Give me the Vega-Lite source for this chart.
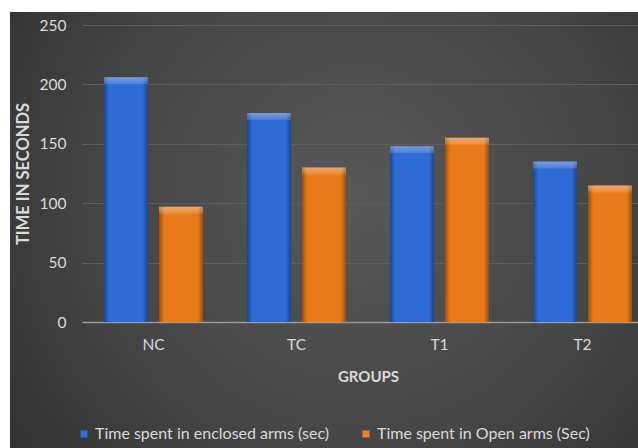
{
  "$schema": "https://vega.github.io/schema/vega-lite/v6.json",
  "width": 628,
  "height": 436,
  "autosize": {"type": "none"},
  "padding": {"left": 10, "top": 12, "right": 0, "bottom": 0},
  "background": "#ffffff",
  "view": {
    "stroke": null,
    "fill": {
      "gradient": "radial",
      "x1": 0.55, "y1": 0.45, "r1": 0,
      "x2": 0.55, "y2": 0.45, "r2": 0.75,
      "stops": [
        {"offset": 0, "color": "#585858"},
        {"offset": 0.55, "color": "#454545"},
        {"offset": 1, "color": "#2c2c2c"}
      ]
    }
  },
  "config": {
    "font": "Lato",
    "axis": {
      "labelColor": "#dadada",
      "titleColor": "#dadada",
      "labelFontSize": 15.5,
      "titleFontSize": 15,
      "titleFontWeight": "bold",
      "ticks": false,
      "tickSize": 0
    },
    "legend": {
      "labelColor": "#dadada",
      "labelFontSize": 16,
      "labelLimit": 400
    }
  },
  "data": {
    "values": [
      {"group": "NC", "series": "Time spent in enclosed arms (sec)", "time": 206},
      {"group": "NC", "series": "Time spent in Open arms (Sec)", "time": 97},
      {"group": "TC", "series": "Time spent in enclosed arms (sec)", "time": 176},
      {"group": "TC", "series": "Time spent in Open arms (Sec)", "time": 130},
      {"group": "T1", "series": "Time spent in enclosed arms (sec)", "time": 148},
      {"group": "T1", "series": "Time spent in Open arms (Sec)", "time": 155},
      {"group": "T2", "series": "Time spent in enclosed arms (sec)", "time": 135},
      {"group": "T2", "series": "Time spent in Open arms (Sec)", "time": 115}
    ]
  },
  "encoding": {
    "x": {
      "field": "group",
      "type": "nominal",
      "sort": ["NC", "TC", "T1", "T2"],
      "scale": {"range": [72, 644], "paddingInner": 0.308, "paddingOuter": 0.154},
      "axis": {
        "title": "GROUPS",
        "labelAngle": 0,
        "offset": -126,
        "labelPadding": 15,
        "titlePadding": 17,
        "domainColor": "#9a9a9a",
        "domainWidth": 1.5
      }
    },
    "xOffset": {
      "field": "series",
      "type": "nominal",
      "scale": {
        "domain": ["Time spent in enclosed arms (sec)", "Time spent in Open arms (Sec)"],
        "paddingInner": 0.2,
        "paddingOuter": 0
      }
    },
    "y": {
      "field": "time",
      "type": "quantitative",
      "scale": {"domain": [0, 250], "range": [310, 13], "nice": false},
      "axis": {
        "title": "TIME IN SECONDS",
        "titleFontSize": 16.5,
        "values": [0, 50, 100, 150, 200, 250],
        "offset": -72,
        "domain": false,
        "labelPadding": 16,
        "titlePadding": 8,
        "gridColor": "#5e5e5e",
        "gridWidth": 1
      }
    }
  },
  "layer": [
    {
      "mark": {"type": "bar"},
      "encoding": {
        "color": {
          "field": "series",
          "type": "nominal",
          "scale": {
            "domain": ["Time spent in enclosed arms (sec)", "Time spent in Open arms (Sec)"],
            "range": ["#3071e2", "#f5801a"]
          },
          "legend": {
            "title": null,
            "orient": "none",
            "direction": "horizontal",
            "legendX": 66,
            "legendY": 414,
            "symbolType": "square",
            "symbolSize": 49,
            "symbolStrokeWidth": 0,
            "labelOffset": 3,
            "columnPadding": 28,
            "padding": 0
          }
        }
      }
    },
    {
      "mark": {
        "type": "bar",
        "fill": {
          "gradient": "linear",
          "x1": 0, "y1": 0, "x2": 1, "y2": 0,
          "stops": [
            {"offset": 0, "color": "rgba(0,0,0,0.38)"},
            {"offset": 0.12, "color": "rgba(0,0,0,0.05)"},
            {"offset": 0.88, "color": "rgba(0,0,0,0.05)"},
            {"offset": 1, "color": "rgba(0,0,0,0.38)"}
          ]
        }
      }
    },
    {
      "mark": {
        "type": "bar",
        "y2Offset": 7,
        "fill": {
          "gradient": "linear",
          "x1": 0, "y1": 0, "x2": 0, "y2": 1,
          "stops": [
            {"offset": 0, "color": "rgba(255,255,255,0.35)"},
            {"offset": 1, "color": "rgba(255,255,255,0.12)"}
          ]
        }
      },
      "encoding": {
        "y2": {"field": "time"}
      }
    }
  ]
}
